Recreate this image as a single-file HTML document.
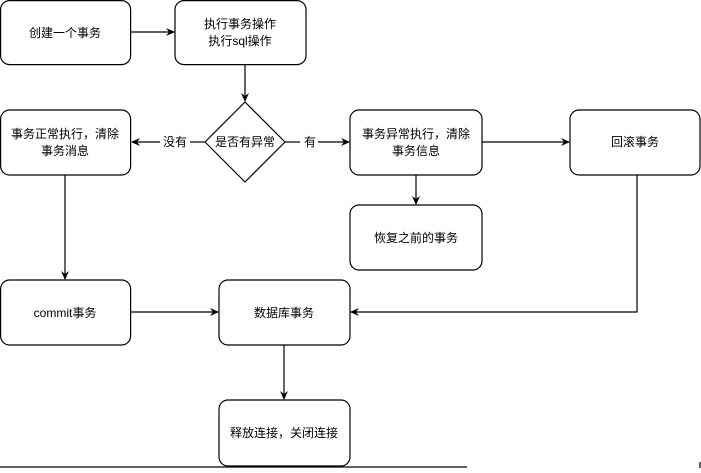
<!DOCTYPE html>
<html><head><meta charset="utf-8"><style>
body{margin:0;background:#fff;width:701px;height:468px;overflow:hidden}
text{font-family:"Liberation Sans","Noto Sans CJK SC",sans-serif;font-size:12px;fill:#000}
</style></head><body>
<svg width="701" height="468" viewBox="0 0 701 468" xmlns="http://www.w3.org/2000/svg">
<defs><marker id="a" markerWidth="10" markerHeight="10" refX="8" refY="5" orient="auto" markerUnits="userSpaceOnUse"><path d="M0,1 L9,5 L0,9 L3,5 Z" fill="#000"/></marker></defs>
<g fill="#fff" stroke="#000" stroke-width="1.2">
<rect x="0.6" y="0.6" width="130" height="64" rx="9"/>
<rect x="175" y="0.6" width="131" height="64" rx="9"/>
<path d="M245,102 L285,142 L245,182 L205,142 Z" stroke-linejoin="round"/>
<rect x="0.6" y="110" width="130" height="65" rx="9"/>
<rect x="350" y="110" width="132" height="65" rx="9"/>
<rect x="570" y="110" width="130" height="65" rx="9"/>
<rect x="350" y="205" width="132" height="65" rx="9"/>
<rect x="0.6" y="280" width="130" height="65" rx="9"/>
<rect x="219" y="280" width="131" height="65" rx="9"/>
<rect x="219" y="400" width="131" height="66" rx="9"/>
</g>
<g stroke="#000" stroke-width="1.2" fill="none">
<line x1="131" y1="32" x2="174" y2="32" marker-end="url(#a)"/>
<line x1="245" y1="65" x2="245" y2="101" marker-end="url(#a)"/>
<line x1="205" y1="142" x2="190" y2="142"/>
<line x1="160" y1="142" x2="132" y2="142" marker-end="url(#a)"/>
<line x1="285" y1="142" x2="300" y2="142"/>
<line x1="318" y1="142" x2="349" y2="142" marker-end="url(#a)"/>
<line x1="482" y1="142" x2="569" y2="142" marker-end="url(#a)"/>
<line x1="416" y1="175" x2="416" y2="204" marker-end="url(#a)"/>
<line x1="65" y1="175" x2="65" y2="279" marker-end="url(#a)"/>
<line x1="131" y1="312" x2="218" y2="312" marker-end="url(#a)"/>
<polyline points="637,175 637,312 351,312" marker-end="url(#a)"/>
<line x1="284" y1="345" x2="284" y2="399" marker-end="url(#a)"/>
<line x1="0" y1="467" x2="467" y2="467"/>
<line x1="700" y1="462" x2="700" y2="468"/>
</g>
<g text-anchor="middle">
<text x="65" y="37">创建一个事务</text>
<text x="240" y="28">执行事务操作</text>
<text x="240" y="45">执行sql操作</text>
<text x="245" y="146">是否有异常</text>
<text x="175" y="146">没有</text>
<text x="310" y="146">有</text>
<text x="65" y="138">事务正常执行，清除</text>
<text x="65" y="155">事务消息</text>
<text x="416" y="138">事务异常执行，清除</text>
<text x="416" y="155">事务信息</text>
<text x="635" y="146">回滚事务</text>
<text x="416" y="242">恢复之前的事务</text>
<text x="65" y="317">commit事务</text>
<text x="284" y="317">数据库事务</text>
<text x="284" y="437">释放连接，关闭连接</text>
</g>
</svg>
</body></html>
